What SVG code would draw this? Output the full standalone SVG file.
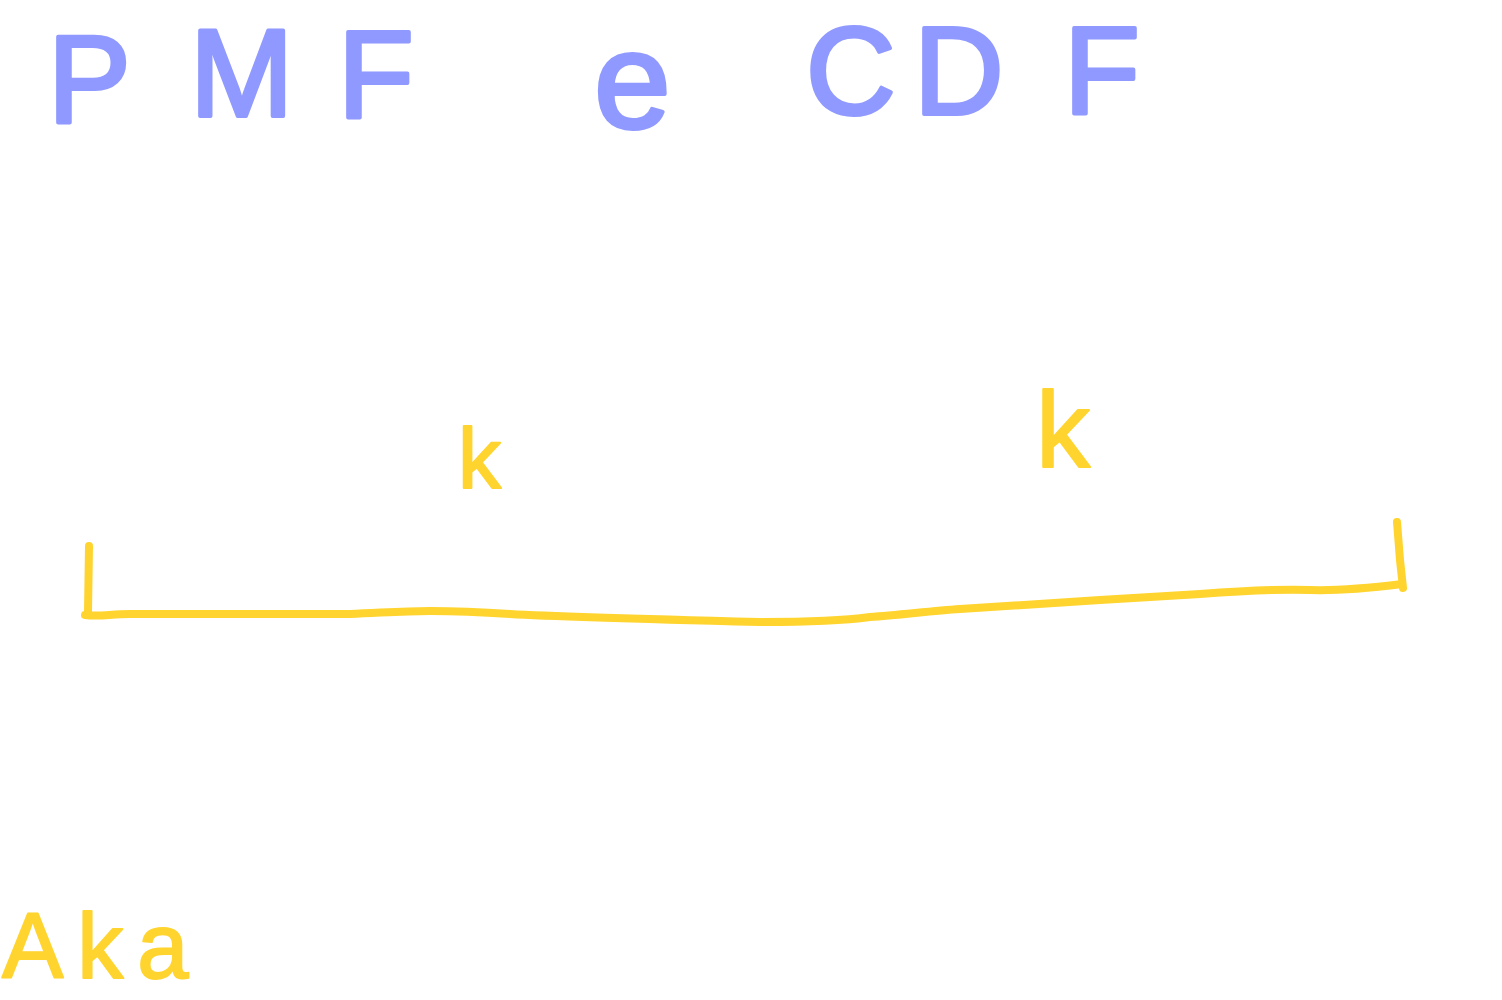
<svg xmlns="http://www.w3.org/2000/svg" width="1502" height="1000" viewBox="0 0 1502 1000">
<style>
.blue{fill:#8f99ff;stroke:#8f99ff;stroke-width:4;stroke-linejoin:round;font-family:"Liberation Sans",Arial,sans-serif}
.yel{fill:#ffd42e;stroke:#ffd42e;stroke-width:2;stroke-linejoin:round;font-family:"Liberation Sans",Arial,sans-serif}
.mark{fill:none;stroke:#ffd42e;stroke-width:8;stroke-linecap:round;stroke-linejoin:round}
</style>
<rect width="1502" height="1000" fill="#ffffff"/>
<g id="title">
<text class="blue" font-size="124"><tspan x="48" y="122">P</tspan><tspan x="190" y="116">M</tspan><tspan x="338" y="118">F</tspan></text>
<text class="blue" font-size="138" x="594" y="128">e</text>
<text class="blue" font-size="124"><tspan x="806" y="114">C</tspan><tspan x="914" y="114">D</tspan><tspan x="1064" y="114">F</tspan></text>
</g>
<g id="k-left"><text class="yel" font-size="86" x="458" y="488">k</text></g>
<g id="k-right"><text class="yel" font-size="108" x="1036" y="467">k</text></g>
<g id="bracket">
<path class="mark" d="M89,546 L88,612 M85,615 C100,617 110,614 130,614 L350,614 C380,613 400,611 430,611 C460,611 480,612 510,614 C560,617 640,619 760,622 C800,622 840,621 870,617 C900,615 930,611 960,609 L1100,600 L1200,594 C1240,591 1280,589 1310,590 C1340,591 1370,588 1402,584 M1397,522 L1400,560 L1403,588"/>
</g>
<g id="aka"><text class="yel" font-size="92" x="2" y="978" letter-spacing="14">Aka</text></g>
</svg>
